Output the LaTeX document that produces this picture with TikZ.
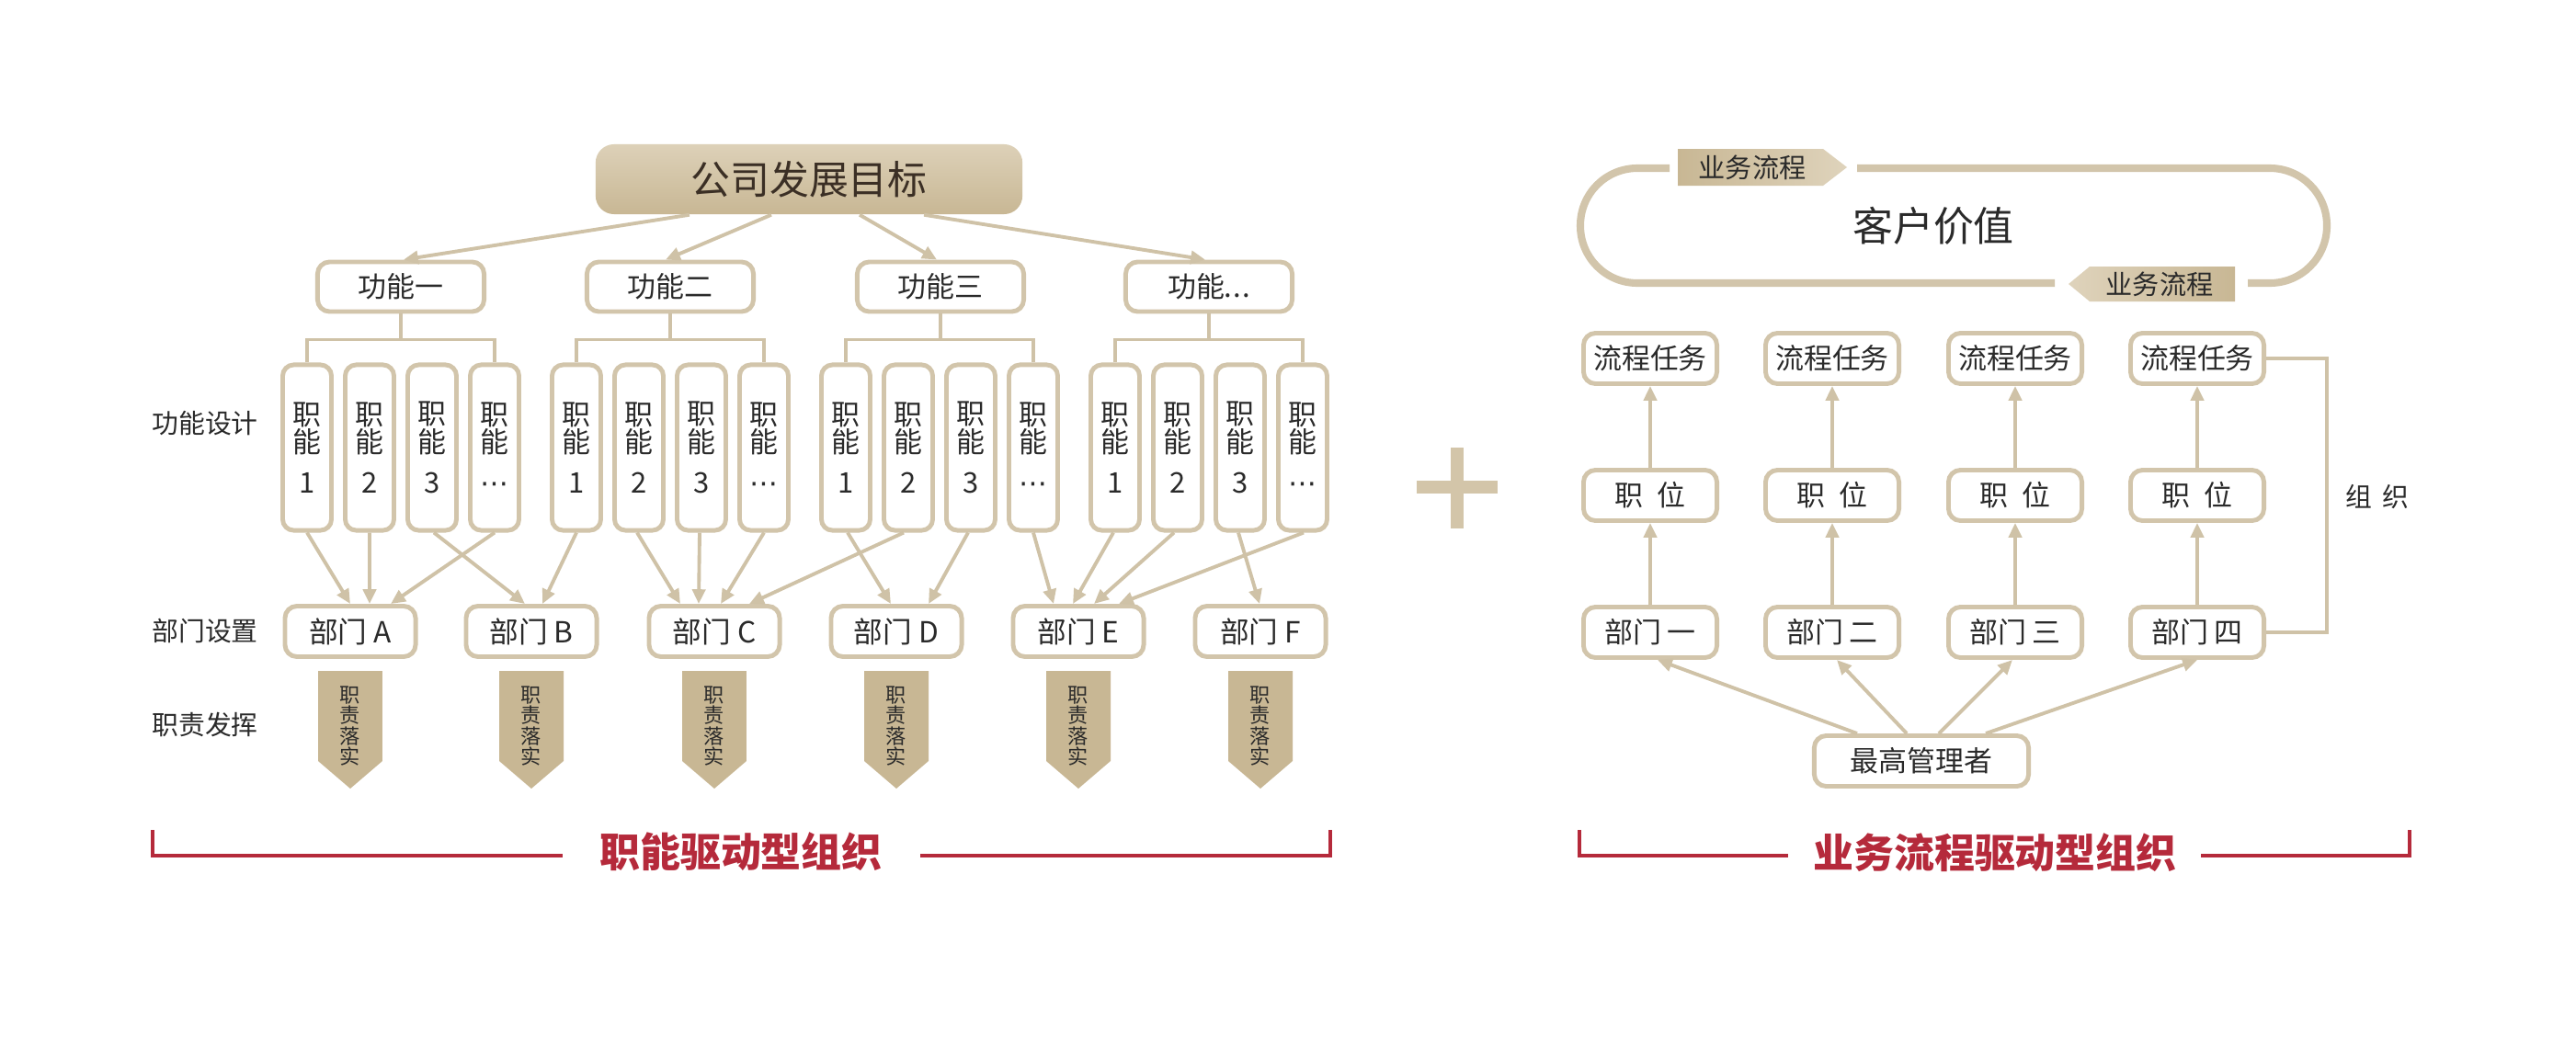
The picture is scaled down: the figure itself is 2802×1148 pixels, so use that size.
\documentclass[tikz,border=0pt]{standalone}
\usepackage{fontspec}
\setmainfont{Noto Sans CJK SC}
\newfontfamily\dejavu{DejaVu Sans}
\usetikzlibrary{arrows.meta,calc}
\definecolor{beige}{HTML}{D2C5AB}
\definecolor{arrc}{HTML}{CFC2A7}
\definecolor{tanc}{HTML}{C8B794}
\definecolor{tanL}{HTML}{EEE6D6}
\definecolor{txt}{HTML}{2A2A2A}
\definecolor{goaltxt}{HTML}{3B2F25}
\definecolor{titlered}{HTML}{B52A3B}
\tikzset{
  box/.style={draw=beige, line width=1.4pt, rounded corners=0.13cm, fill=white, text=txt, inner sep=0pt, align=center},
  fbox/.style={box, minimum width=1.81cm, minimum height=0.54cm, font=\fontsize{8.8}{10}\selectfont},
  jbox/.style={box, minimum width=0.53cm, minimum height=1.80cm, rounded corners=0.12cm, font=\fontsize{8.8}{8.6}\selectfont},
  dbox/.style={box, minimum width=1.42cm, minimum height=0.55cm, font=\fontsize{9}{10}\selectfont},
  rbox/.style={box, minimum width=1.45cm, minimum height=0.55cm, font=\fontsize{8.8}{10}\selectfont},
  conn/.style={draw=arrc, line width=1.1pt},
  arr/.style={conn, -{Triangle[length=4.5pt,width=4pt]}},
  lab/.style={text=txt, inner sep=0pt, font=\fontsize{8.2}{10}\selectfont},
  ttl/.style={text=titlered, inner sep=0pt, font=\fontsize{12.5}{14}\selectfont\bfseries},
  redline/.style={draw=titlered, line width=1.4pt},
  ringline/.style={draw=beige, line width=2.3pt, rounded corners=0.62cm},
  tagtxt/.style={text=txt, inner sep=0pt, font=\fontsize{8.3}{10}\selectfont},
  dutytxt/.style={text=txt, inner sep=0pt, align=center, font=\fontsize{6.3}{6.4}\selectfont},
}
\begin{document}
\begin{tikzpicture}[x=0.01cm, y=-0.01cm]
\useasboundingbox[fill=white] (0,0) rectangle (2802,1148);

% ---------------- left diagram ----------------
\node[minimum width=4.64cm, minimum height=0.76cm, rounded corners=0.2cm,
      top color=tanL!55!tanc, bottom color=tanc, text=goaltxt, inner sep=0pt,
      font=\fontsize{12.2}{14}\selectfont] (goal) at (880,195) {公司发展目标};

\node[fbox] (f1) at (436,312) {功能一};
\node[fbox] (f2) at (729,312) {功能二};
\node[fbox] (f3) at (1023,312) {功能三};
\node[fbox] (f4) at (1315,312) {功能.\kern0.3pt.\kern0.3pt.};

\draw[arr] ([xshift=-1.30cm]goal.south) -- ([xshift=0.03cm]f1.north);
\draw[arr] ([xshift=-0.41cm]goal.south) -- ([xshift=-0.05cm]f2.north);
\draw[arr] ([xshift=0.55cm]goal.south) -- ([xshift=-0.04cm]f3.north);
\draw[arr] ([xshift=1.25cm]goal.south) -- ([xshift=-0.04cm]f4.north);

\foreach \g/\gx in {1/334,2/627,3/920,4/1213} {
  \foreach \k/\t in {1/1,2/2,3/3,4/{\dejavu ⋯}} {
    \node[jbox] (j\g\k) at ({\gx+68*(\k-1)},487) {职\\能\\[4pt]\t};
  }
  \draw[conn] (f\g.south) -- ++(0,29);
  \draw[conn] (j\g1.north) -- ++(0,-25) -| (j\g4.north);
}

\foreach \n/\x in {A/381,B/578,C/777,D/975,E/1173,F/1371} {
  \node[dbox] (d\n) at (\x,687) {部门 \n};
  \shade[left color=tanc, middle color=tanL, right color=tanc]
    (\x-35,730) -- (\x+35,730) -- (\x+35,828) -- (\x,858) -- (\x-35,828) -- cycle;
  \node[dutytxt] (r\n) at (\x,790) {职\\责\\落\\实};
}

\draw[arr] (j11.south) -- (dA.north);
\draw[arr] (j12.south) -- ([xshift=0.21cm]dA.north);
\draw[arr] (j14.south) -- ([xshift=0.44cm]dA.north);
\draw[arr] ([xshift=0.02cm]j13.south) -- ([xshift=-0.07cm]dB.north);
\draw[arr] (j21.south) -- ([xshift=0.12cm]dB.north);
\draw[arr] ([xshift=-0.02cm]j22.south) -- ([xshift=-0.37cm]dC.north);
\draw[arr] ([xshift=-0.02cm]j23.south) -- ([xshift=-0.17cm]dC.north);
\draw[arr] (j24.south) -- ([xshift=0.07cm]dC.north);
\draw[arr] ([xshift=-0.05cm]j32.south) -- ([xshift=0.38cm]dC.north);
\draw[arr] ([xshift=0.02cm]j31.south) -- ([xshift=-0.06cm]dD.north);
\draw[arr] ([xshift=-0.03cm]j33.south) -- ([xshift=0.35cm]dD.north);
\draw[arr] (j34.south) -- ([xshift=-0.27cm]dE.north);
\draw[arr] ([xshift=-0.02cm]j41.south) -- ([xshift=-0.06cm]dE.north);
\draw[arr] ([xshift=-0.04cm]j42.south) -- ([xshift=0.17cm]dE.north);
\draw[arr] ([xshift=0.01cm]j44.south) -- ([xshift=0.44cm]dE.north);
\draw[arr] ([xshift=-0.02cm]j43.south) -- ([xshift=-0.01cm]dF.north);

\node[lab] (l1) at (223,461) {功能设计};
\node[lab] (l2) at (223,687) {部门设置};
\node[lab] (l3) at (223,789) {职责发挥};

\node[ttl] (t1) at (806,927) {职能驱动型组织};
\draw[redline] (166,903) -- (166,931) -- (612,931);
\draw[redline] (1001,931) -- (1447,931) -- (1447,903);

% ---------------- plus ----------------
\fill[tanc!80!white] (1578,487) rectangle (1592,575);
\fill[tanc!80!white] (1541,523) rectangle (1629,537);

% ---------------- right diagram ----------------
\draw[ringline] (1816,183) -- (1719,183) -- (1719,308) -- (2235,308);
\draw[ringline] (2445,308) -- (2531,308) -- (2531,183) -- (2020,183);
\shade[left color=tanc, right color=tanL!60!tanc]
  (1825,162) -- (1983,162) -- (2009,182) -- (1983,202) -- (1825,202) -- cycle;
\node[tagtxt] (tag1) at (1906,182) {业务流程};
\shade[left color=tanL!60!tanc, right color=tanc]
  (2431,290) -- (2273,290) -- (2250,309) -- (2273,328) -- (2431,328) -- cycle;
\node[tagtxt] (tag2) at (2349,309) {业务流程};
\node[text=txt, inner sep=0pt, font=\fontsize{12.5}{14}\selectfont] (cv) at (2103,246) {客户价值};

\foreach \i/\x/\t in {1/1795/一, 2/1993/二, 3/2192/三, 4/2390/四} {
  \node[rbox] (p\i) at (\x,390) {流程任务};
  \node[rbox] (z\i) at (\x,539) {职\hspace{0.5em}位};
  \node[rbox] (b\i) at (\x,688) {部门 \t};
  \draw[arr] (b\i.north) -- (z\i.south);
  \draw[arr] (z\i.north) -- (p\i.south);
}
\node[box, minimum width=2.33cm, minimum height=0.55cm, font=\fontsize{8.8}{10}\selectfont] (top) at (2090,828) {最高管理者};
\draw[arr] ([xshift=-0.70cm]top.north) -- ([xshift=0.08cm]b1.south);
\draw[arr] ([xshift=-0.16cm]top.north) -- ([xshift=0.05cm]b2.south);
\draw[arr] ([xshift=0.19cm]top.north) -- ([xshift=-0.03cm]b3.south);
\draw[arr] ([xshift=0.70cm]top.north) -- (b4.south);

\draw[conn] (p4.east) -- ++(66,0) |- (b4.east);
\node[lab] (org) at (2586,541) {组\hspace{0.4em}织};

\node[ttl] (t2) at (2170,928) {业务流程驱动型组织};
\draw[redline] (1718,903) -- (1718,931) -- (1945,931);
\draw[redline] (2394,931) -- (2621,931) -- (2621,903);
\end{tikzpicture}
\end{document}
